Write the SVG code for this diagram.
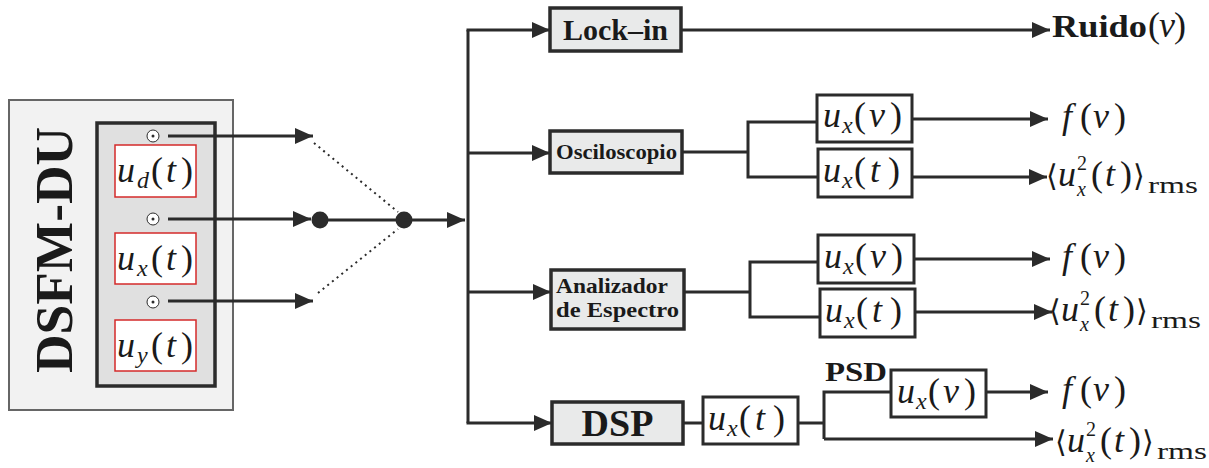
<svg xmlns="http://www.w3.org/2000/svg" width="1209" height="468" viewBox="0 0 1209 468">
<style>
.ln{stroke:#2b2b2b;stroke-width:3;fill:none}
.dt{stroke:#2b2b2b;stroke-width:2;fill:none;stroke-dasharray:2 4}
.bx{fill:#e9eaea;stroke:#2b2b2b;stroke-width:3.5}
.wb{fill:#fff;stroke:#2b2b2b;stroke-width:3}
.rb{fill:#fff;stroke:#d42a2a;stroke-width:1.5}
.m{font-family:"Liberation Serif",serif;font-size:36px;fill:#1a1a1a}
.i{font-style:italic}
.s{font-size:24px}
.b{font-family:"Liberation Serif",serif;font-weight:bold;fill:#1a1a1a}
.ang{font-family:"DejaVu Serif",serif;font-size:30px}
</style>
<defs>
<marker id="ah" viewBox="0 0 18 16" refX="18" refY="8" markerWidth="18" markerHeight="16" markerUnits="userSpaceOnUse" orient="auto"><path d="M0,0 L18,8 L0,16 z" fill="#2b2b2b"/></marker>
</defs>

<g id="dsfm">
<rect x="9" y="100" width="224" height="310" fill="#f2f2f2" stroke="#666" stroke-width="2"/>
<text class="b" font-size="52" text-anchor="middle" textLength="246" lengthAdjust="spacingAndGlyphs" transform="translate(72,250) rotate(-90)">DSFM-DU</text>
<rect x="97" y="123" width="118" height="263" fill="#e0e0e0" stroke="#2b2b2b" stroke-width="3.5"/>
<circle cx="153" cy="136" r="6" fill="#fff" stroke="#2b2b2b" stroke-width="1"/><circle cx="153" cy="136" r="1.5" fill="#2b2b2b"/>
<circle cx="153" cy="219" r="6" fill="#fff" stroke="#2b2b2b" stroke-width="1"/><circle cx="153" cy="219" r="1.5" fill="#2b2b2b"/>
<circle cx="153" cy="302" r="6" fill="#fff" stroke="#2b2b2b" stroke-width="1"/><circle cx="153" cy="302" r="1.5" fill="#2b2b2b"/>
<rect class="rb" x="115" y="145" width="81" height="52"/>
<text class="m" y="182"><tspan x="117" class="i">u</tspan><tspan x="137" dy="6" class="i s">d</tspan><tspan x="151" dy="-6">(</tspan><tspan x="166" class="i">t</tspan><tspan x="181">)</tspan></text>
<rect class="rb" x="115" y="233" width="81" height="51"/>
<text class="m" y="270"><tspan x="117" class="i">u</tspan><tspan x="137" dy="6" class="i s">x</tspan><tspan x="151" dy="-6">(</tspan><tspan x="166" class="i">t</tspan><tspan x="181">)</tspan></text>
<rect class="rb" x="115" y="320" width="81" height="51"/>
<text class="m" y="357"><tspan x="117" class="i">u</tspan><tspan x="137" dy="6" class="i s">y</tspan><tspan x="151" dy="-6">(</tspan><tspan x="166" class="i">t</tspan><tspan x="181">)</tspan></text>
</g>

<g id="connectors">
<path class="ln" d="M168,136 H313" marker-end="url(#ah)"/>
<path class="ln" d="M168,219 H311" marker-end="url(#ah)"/>
<path class="ln" d="M168,301 H313" marker-end="url(#ah)"/>
<path class="ln" d="M320,220 H404"/>
<path class="dt" d="M314,143 L398,212"/>
<path class="dt" d="M318,293 L398,229"/>
<circle cx="320" cy="220" r="8.5" fill="#2b2b2b"/>
<circle cx="404" cy="220" r="8.5" fill="#2b2b2b"/>
<path class="ln" d="M404,220 H465" marker-end="url(#ah)"/>
<path class="ln" d="M468,30 V423"/>
<path class="ln" d="M466.5,30 H550" marker-end="url(#ah)"/>
<path class="ln" d="M468,153 H550" marker-end="url(#ah)"/>
<path class="ln" d="M468,292 H551" marker-end="url(#ah)"/>
<path class="ln" d="M466.5,423 H552" marker-end="url(#ah)"/>
<path class="ln" d="M681,30 H1050" marker-end="url(#ah)"/>
<path class="ln" d="M682,152 H748 M748,120.5 V178.5 M746.5,122 H817 M746.5,177 H818"/>
<path class="ln" d="M912,119 H1048" marker-end="url(#ah)"/>
<path class="ln" d="M912,177 H1047" marker-end="url(#ah)"/>
<path class="ln" d="M684,292 H750 M750,260.5 V318.5 M748.5,262 H818 M748.5,317 H820"/>
<path class="ln" d="M914,259 H1050" marker-end="url(#ah)"/>
<path class="ln" d="M915,312 H1052" marker-end="url(#ah)"/>
<path class="ln" d="M683,423 H703 M798,423 H824 M824,390.5 V439 M822.5,392 H891"/>
<path class="ln" d="M986,392 H1048" marker-end="url(#ah)"/>
<path class="ln" d="M824,439 H1053" marker-end="url(#ah)"/>
</g>

<g id="lockin">
<rect class="bx" x="550" y="8" width="131" height="43"/>
<text class="b" font-size="30" x="615.5" y="40" text-anchor="middle">Lock–in</text>
</g>
<g id="osciloscopio">
<rect class="bx" x="550" y="131" width="132" height="42"/>
<text class="b" font-size="20" x="556" y="159" textLength="121" lengthAdjust="spacingAndGlyphs">Osciloscopio</text>
</g>
<g id="analizador">
<rect class="bx" x="551" y="270" width="133" height="59"/>
<text class="b" font-size="21"><tspan x="556" y="293" textLength="112" lengthAdjust="spacingAndGlyphs">Analizador</tspan><tspan x="556" y="317" textLength="123" lengthAdjust="spacingAndGlyphs">de Espectro</tspan></text>
</g>
<g id="dsp">
<rect class="bx" x="552" y="402" width="131" height="42"/>
<text class="b" font-size="38" x="617.5" y="436" text-anchor="middle">DSP</text>
</g>

<g id="osc-unu">
<rect class="wb" x="817" y="95" width="95" height="47"/>
<text class="m" y="127"><tspan x="823" class="i">u</tspan><tspan x="842" dy="6" class="i s">x</tspan><tspan x="854" dy="-6">(</tspan><tspan x="869" class="i">ν</tspan><tspan x="890">)</tspan></text>
</g>
<g id="osc-ut">
<rect class="wb" x="818" y="149" width="94" height="48"/>
<text class="m" y="182"><tspan x="823" class="i">u</tspan><tspan x="842" dy="6" class="i s">x</tspan><tspan x="854" dy="-6">(</tspan><tspan x="870" class="i">t</tspan><tspan x="888">)</tspan></text>
</g>
<g id="an-unu">
<rect class="wb" x="818" y="235" width="96" height="48"/>
<text class="m" y="268"><tspan x="824" class="i">u</tspan><tspan x="843" dy="6" class="i s">x</tspan><tspan x="855" dy="-6">(</tspan><tspan x="870" class="i">ν</tspan><tspan x="891">)</tspan></text>
</g>
<g id="an-ut">
<rect class="wb" x="820" y="289" width="95" height="48"/>
<text class="m" y="322"><tspan x="825" class="i">u</tspan><tspan x="844" dy="6" class="i s">x</tspan><tspan x="856" dy="-6">(</tspan><tspan x="872" class="i">t</tspan><tspan x="890">)</tspan></text>
</g>
<g id="dsp-ut">
<rect class="wb" x="703" y="397" width="95" height="47"/>
<text class="m" y="430"><tspan x="708" class="i">u</tspan><tspan x="727" dy="6" class="i s">x</tspan><tspan x="739" dy="-6">(</tspan><tspan x="755" class="i">t</tspan><tspan x="773">)</tspan></text>
</g>
<g id="psd-unu">
<text class="b" font-size="28" x="825" y="381" textLength="62" lengthAdjust="spacingAndGlyphs">PSD</text>
<rect class="wb" x="891" y="370" width="95" height="47"/>
<text class="m" y="403"><tspan x="897" class="i">u</tspan><tspan x="916" dy="6" class="i s">x</tspan><tspan x="928" dy="-6">(</tspan><tspan x="943" class="i">ν</tspan><tspan x="964">)</tspan></text>
</g>

<g id="outputs">
<text y="37"><tspan class="b" font-size="32" x="1052" textLength="95" lengthAdjust="spacingAndGlyphs">Ruido</tspan><tspan class="m" font-size="32" x="1148">(</tspan><tspan class="m i" font-size="32" x="1159">ν</tspan><tspan class="m" font-size="32" x="1174">)</tspan></text>
<text class="m" y="128"><tspan x="1062" class="i">f</tspan><tspan x="1080">(</tspan><tspan x="1093" class="i">ν</tspan><tspan x="1114">)</tspan></text>
<text class="m" y="268"><tspan x="1062" class="i">f</tspan><tspan x="1080">(</tspan><tspan x="1093" class="i">ν</tspan><tspan x="1114">)</tspan></text>
<text class="m" y="401"><tspan x="1062" class="i">f</tspan><tspan x="1080">(</tspan><tspan x="1093" class="i">ν</tspan><tspan x="1114">)</tspan></text>
<text class="m" y="186"><tspan x="1046" class="ang">⟨</tspan><tspan x="1058" class="i">u</tspan><tspan x="1077" dy="-16" font-size="20">2</tspan><tspan x="1077" dy="26" class="i" font-size="20">x</tspan><tspan x="1091" dy="-10">(</tspan><tspan x="1105" class="i">t</tspan><tspan x="1120">)</tspan><tspan x="1133" class="ang">⟩</tspan><tspan x="1148" dy="7" font-size="24" textLength="50" lengthAdjust="spacingAndGlyphs">rms</tspan></text>
<text class="m" y="321"><tspan x="1049" class="ang">⟨</tspan><tspan x="1061" class="i">u</tspan><tspan x="1080" dy="-16" font-size="20">2</tspan><tspan x="1080" dy="26" class="i" font-size="20">x</tspan><tspan x="1094" dy="-10">(</tspan><tspan x="1108" class="i">t</tspan><tspan x="1123">)</tspan><tspan x="1136" class="ang">⟩</tspan><tspan x="1151" dy="7" font-size="24" textLength="50" lengthAdjust="spacingAndGlyphs">rms</tspan></text>
<text class="m" y="452"><tspan x="1055" class="ang">⟨</tspan><tspan x="1067" class="i">u</tspan><tspan x="1086" dy="-16" font-size="20">2</tspan><tspan x="1086" dy="26" class="i" font-size="20">x</tspan><tspan x="1100" dy="-10">(</tspan><tspan x="1114" class="i">t</tspan><tspan x="1129">)</tspan><tspan x="1142" class="ang">⟩</tspan><tspan x="1157" dy="7" font-size="24" textLength="50" lengthAdjust="spacingAndGlyphs">rms</tspan></text>
</g>
</svg>
